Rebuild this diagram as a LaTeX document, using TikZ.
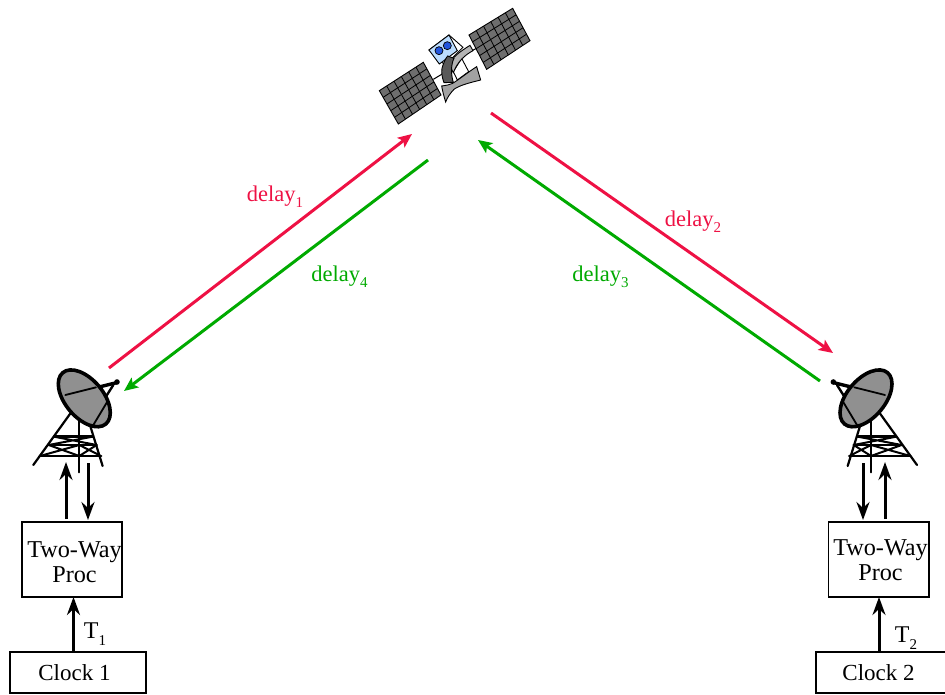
\documentclass[tikz,border=0pt]{standalone}
\usepackage{fontspec}
\setmainfont{Liberation Serif}
\usetikzlibrary{arrows.meta,calc}
\definecolor{cred}{HTML}{EE1144}
\definecolor{cgreen}{HTML}{00AA00}
\definecolor{panelgray}{HTML}{6E6E6E}
\definecolor{lightgray2}{HTML}{B4B4B4}
\definecolor{dishgray}{HTML}{909090}
\definecolor{bodyblue}{HTML}{BBDDFF}
\definecolor{lensblue}{HTML}{2255DD}
\newcommand{\subnum}[1]{\raisebox{-0.28em}{\fontsize{15}{15}\selectfont #1}}
\newcommand{\solarpanel}[4]{%
  \fill[panelgray] (#1) -- (#2) -- (#3) -- (#4) -- cycle;
  \foreach \t in {1,...,5}{\draw[line width=.8pt] ($(#1)!\t/6!(#2)$) -- ($(#4)!\t/6!(#3)$);}
  \foreach \t in {1,...,4}{\draw[line width=.8pt] ($(#1)!\t/5!(#4)$) -- ($(#2)!\t/5!(#3)$);}
  \draw[line width=.9pt] (#1) -- (#2) -- (#3) -- (#4) -- cycle;}
\newcommand{\dishtower}{%
  \draw[towerline] (-23,155) -- (-138,315);
  \draw[towerline] (32,195) -- (70,318);
  \draw[towerline,line width=2.3pt] (0,180) -- (0,337);
  \draw[towerline,line width=2.4pt] (-76,230) -- (40,230);
  \draw[towerline,line width=2.4pt] (-92,255) -- (52,255);
  \draw[towerline,line width=2.8pt] (-118,288) -- (65,288);
  \draw[towerline,line width=2pt] (-76,230) -- (52,255) (40,230) -- (-92,255);
  \draw[towerline,line width=2pt] (-92,255) -- (0,288) (-118,288) -- (0,255);
  \draw[towerline,line width=2pt] (0,255) -- (65,288) (0,288) -- (52,255);
  \draw[towerline,line width=2.4pt] (45,165) -- (102,75);
  \draw[towerline,line width=3.4pt] (55,82) -- (112,68);
  \fill (113,66) circle[radius=2.8pt];
  \draw[fill=dishgray,line width=3.6pt,shift={(15,115)},rotate=-50] (0,0) ellipse[x radius=33.5pt,y radius=19pt];
  \draw[towerline,line width=1.8pt] (-42,105) -- (50,82);
  \draw[towerline,line width=1.8pt] (42,195) -- (84,125);
}
\tikzset{
  box/.style={draw,line width=1.7pt,inner sep=0pt,align=center,font=\fontsize{24.2}{25}\selectfont},
  towerline/.style={line width=2.2pt,line cap=round},
  thick arrow/.style={line width=3pt,-{Stealth[length=18pt,width=13pt,inset=6pt]}},
  radio/.style={line width=3pt,-{Stealth[length=14pt,width=12pt,inset=3pt]}},
  lbl/.style={font=\fontsize{22.5}{24}\selectfont,inner sep=0pt},
}
\begin{document}
\begin{tikzpicture}[x=1pt,y=-1pt]
\useasboundingbox (0,0) rectangle (945,694);
\begin{scope}[shift={(370,0)},x=.3333pt,y=-.3333pt]
  \draw[line width=1pt] (190,238) -- (245,205) (265,172) -- (330,140);
  \coordinate (a1) at (28,272); \coordinate (a2) at (160,187);
  \coordinate (a3) at (213,285); \coordinate (a4) at (85,372);
  \solarpanel{a1}{a2}{a3}{a4}
  \coordinate (b1) at (297,105); \coordinate (b2) at (428,25);
  \coordinate (b3) at (480,122); \coordinate (b4) at (350,208);
  \solarpanel{b1}{b2}{b3}{b4}
  \draw[fill=white,line width=.9pt] (237,105) -- (279,142) -- (225,195) -- (177,150) -- cycle;
  \draw[fill=bodyblue,line width=.9pt] (177,150) -- (237,105) -- (262,152) -- (208,192) -- cycle;
  \draw[fill=lensblue,line width=.7pt] (207,152) circle[radius=12];
  \draw[fill=lensblue,line width=.7pt] (232,137) circle[radius=12];
  \draw[fill=white,line width=.9pt] (250,215) -- (275,175) -- (296,215) -- (262,240) -- cycle;
  \draw[fill=lightgray2,line width=.9pt] (238,195) .. controls (245,172) and (270,155) .. (300,136) -- (309,152) .. controls (285,165) and (262,185) .. (250,218) -- cycle;
  \draw[fill=black!65,line width=.9pt] (216,205) .. controls (220,190) and (226,176) .. (233,168) -- (252,175) .. controls (242,195) and (243,225) .. (250,247) -- (222,248) .. controls (216,232) and (214,218) .. (216,205) -- cycle;
  \draw[fill=lightgray2!90!black,line width=.9pt] (215,258) .. controls (230,256) and (240,254) .. (248,250) .. controls (265,240) and (295,216) .. (320,200) -- (332,240) .. controls (300,248) and (268,256) .. (252,268) .. controls (242,278) and (232,292) .. (227,306) .. controls (222,290) and (218,275) .. (215,258) -- cycle;
\end{scope}
\begin{scope}[shift={(79.3,360)},x=.3333pt,y=-.3333pt]
  \dishtower
\end{scope}
\begin{scope}[shift={(871,360)},xscale=-1,x=.3333pt,y=-.3333pt]
  \dishtower
\end{scope}
\node[box,minimum width=100.5pt,minimum height=75pt] (proc1) at (72,559.2) {};
\node[box,minimum width=100.5pt,minimum height=75pt] (proc2) at (878.6,559.2) {};
\node[box,minimum width=135.5pt,minimum height=40.5pt] (clock1) at (78,672.4) {};
\node[box,minimum width=130pt,minimum height=40.5pt] (clock2) at (880.7,672.4) {};
\node[box,draw=none] (proctext1) at (74.5,562) {Two-Way\\Proc};
\node[box,draw=none] (proctext2) at (880.5,560) {Two-Way\\Proc};
\node[box,draw=none,font=\fontsize{23}{25}\selectfont] (clocktext1) at (74.5,672.5) {Clock 1};
\node[box,draw=none,font=\fontsize{23}{25}\selectfont] (clocktext2) at (878.5,672.5) {Clock 2};
\coordinate (t1up) at (66,462); \coordinate (t1dn) at (88,463);
\coordinate (t2up) at (885,462); \coordinate (t2dn) at (863,463);
\coordinate (p1up) at (66,519); \coordinate (p1dn) at (88,520);
\coordinate (p2up) at (885,519); \coordinate (p2dn) at (863,520);
\coordinate (c1) at (73.5,651); \coordinate (p1c) at (73.5,597);
\coordinate (c2) at (879,651); \coordinate (p2c) at (879,597);
\draw[thick arrow] (p1up) -- (t1up);
\draw[thick arrow] (t1dn) -- (p1dn);
\draw[thick arrow] (p2up) -- (t2up);
\draw[thick arrow] (t2dn) -- (p2dn);
\draw[thick arrow] (c1) -- (p1c);
\draw[thick arrow] (c2) -- (p2c);
\coordinate (r1a) at (109,368); \coordinate (r1b) at (412,134);
\coordinate (g4a) at (428,160); \coordinate (g4b) at (124,391);
\coordinate (r2a) at (491,113); \coordinate (r2b) at (833,353);
\coordinate (g3a) at (820,381); \coordinate (g3b) at (478,140);
\draw[radio,cred] (r1a) -- (r1b);
\draw[radio,cgreen] (g4a) -- (g4b);
\draw[radio,cred] (r2a) -- (r2b);
\draw[radio,cgreen] (g3a) -- (g3b);
\node[lbl,text=cred] (d1) at (275,197) {delay\subnum{1}};
\node[lbl,text=cred] (d2) at (693,222) {delay\subnum{2}};
\node[lbl,text=cgreen] (d3) at (600.5,277) {delay\subnum{3}};
\node[lbl,text=cgreen] (d4) at (339.5,277) {delay\subnum{4}};
\node[lbl,font=\fontsize{24}{25}\selectfont] (t1) at (95,634) {T\subnum{1}};
\node[lbl,font=\fontsize{24}{25}\selectfont] (t2) at (906,638) {T\subnum{2}};
\end{tikzpicture}
\end{document}
